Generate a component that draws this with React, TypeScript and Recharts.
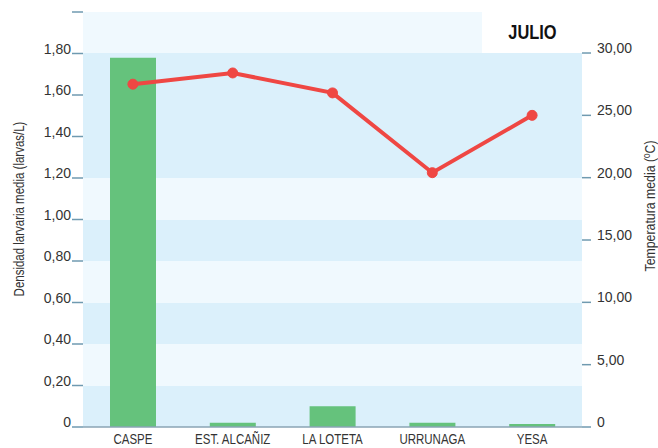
import React from 'react';
import {
  ComposedChart,
  Bar,
  Line,
  XAxis,
  YAxis,
  CartesianGrid,
} from 'recharts';

const stations = ['CASPE', 'EST. ALCAÑIZ', 'LA LOTETA', 'URRUNAGA', 'YESA'];
const larvalDensity = [1.78, 0.02, 0.1, 0.02, 0.015];
const meanTemp = [27.5, 28.4, 26.8, 20.4, 25.0];
const densityTicks = [0, 0.2, 0.4, 0.6, 0.8, 1.0, 1.2, 1.4, 1.6, 1.8, 2.0];
const tempTicks = [0, 5, 10, 15, 20, 25, 30];

const data = stations.map((name, i) => ({
  name,
  density: larvalDensity[i],
  temp: meanTemp[i],
}));

const DARK = '#dbf0fb';
const LIGHT = '#f0f9fe';
// bands from top to bottom
const bandFills = [LIGHT, DARK, DARK, DARK, LIGHT, DARK, LIGHT, DARK, LIGHT, DARK];

const TICK_COLOR = '#6f9ab0';
const AXIS_COLOR = '#8aa4b4';
const TEXT_COLOR = '#333';
const SANS = "'Liberation Sans', Arial, sans-serif";
const NARROW = 0.82; // no condensed font available, squeeze Liberation Sans instead

const fmt = (v: number) => (v === 0 ? '0' : v.toFixed(2).replace('.', ','));

const LeftTick = ({ x, y, payload }: any) => {
  if (payload.value >= 2) return null;
  return (
    <text x={x} y={y} textAnchor="end" fontSize={14} fontFamily={SANS} fill={TEXT_COLOR}>
      {fmt(payload.value)}
    </text>
  );
};

const RightTick = ({ x, y, payload }: any) => (
  <text x={x} y={y} textAnchor="start" fontSize={14} fontFamily={SANS} fill={TEXT_COLOR}>
    {fmt(payload.value)}
  </text>
);

const BottomTick = ({ x, y, payload }: any) => (
  <text
    transform={`translate(${x},${y + 11}) scale(${NARROW},1)`}
    textAnchor="middle"
    fontSize={14}
    fontFamily={SANS}
    fill={TEXT_COLOR}
  >
    {payload.value}
  </text>
);

const sideLabel = (left: number, top: number, size: number): React.CSSProperties => ({
  position: 'absolute',
  left,
  top,
  transform: `translate(-50%, -50%) rotate(-90deg) scaleX(${NARROW})`,
  whiteSpace: 'nowrap',
  fontFamily: SANS,
  fontSize: size,
  lineHeight: 1,
  color: TEXT_COLOR,
});

export default function App() {
  return (
    <div style={{ position: 'absolute', left: 0, top: 0, width: 658, height: 448, background: '#fff' }}>
      <ComposedChart
        width={658}
        height={448}
        data={data}
        margin={{ top: 12, right: 0, bottom: 0, left: 0 }}
        barCategoryGap={0}
      >
        <CartesianGrid
          vertical={false}
          stroke="none"
          horizontalFill={bandFills}
          fillOpacity={1}
        />
        <XAxis
          dataKey="name"
          height={21}
          tickLine={false}
          axisLine={{ stroke: AXIS_COLOR, strokeWidth: 1.5 }}
          tickMargin={0}
          tick={<BottomTick />}
          interval={0}
        />
        <YAxis
          width={83}
          domain={[0, 2]}
          ticks={densityTicks}
          axisLine={false}
          tickLine={{ stroke: TICK_COLOR, strokeWidth: 1.5 }}
          tickSize={11}
          tickMargin={1}
          tick={<LeftTick />}
          interval={0}
        />
        <YAxis
          yAxisId="right"
          orientation="right"
          width={76}
          domain={[0, 33.29]}
          ticks={tempTicks}
          axisLine={false}
          tickLine={{ stroke: TICK_COLOR, strokeWidth: 1.5 }}
          tickSize={9}
          tickMargin={6}
          tick={<RightTick />}
          interval={0}
        />
        <Bar dataKey="density" fill="#65c27c" barSize={46} isAnimationActive={false} />
        <Line
          yAxisId="right"
          dataKey="temp"
          type="linear"
          stroke="#ef4743"
          strokeWidth={4}
          dot={{ r: 5, fill: '#ef4743', stroke: '#ef4743', strokeWidth: 1 }}
          activeDot={false}
          isAnimationActive={false}
        />
      </ComposedChart>

      <div
        style={{
          position: 'absolute',
          left: 482,
          top: 12,
          width: 100,
          height: 41,
          background: '#fff',
          display: 'flex',
          alignItems: 'center',
          justifyContent: 'center',
        }}
      >
        <span
          style={{
            display: 'inline-block',
            transform: `scaleX(${NARROW})`,
            fontFamily: SANS,
            fontWeight: 'bold',
            fontSize: 20,
            color: '#111',
          }}
        >
          JULIO
        </span>
      </div>

      <div style={sideLabel(19, 209, 14)}>Densidad larvaria media (larvas/L)</div>
      <div style={sideLabel(649, 206, 15)}>Temperatura media (ºC)</div>
    </div>
  );
}
